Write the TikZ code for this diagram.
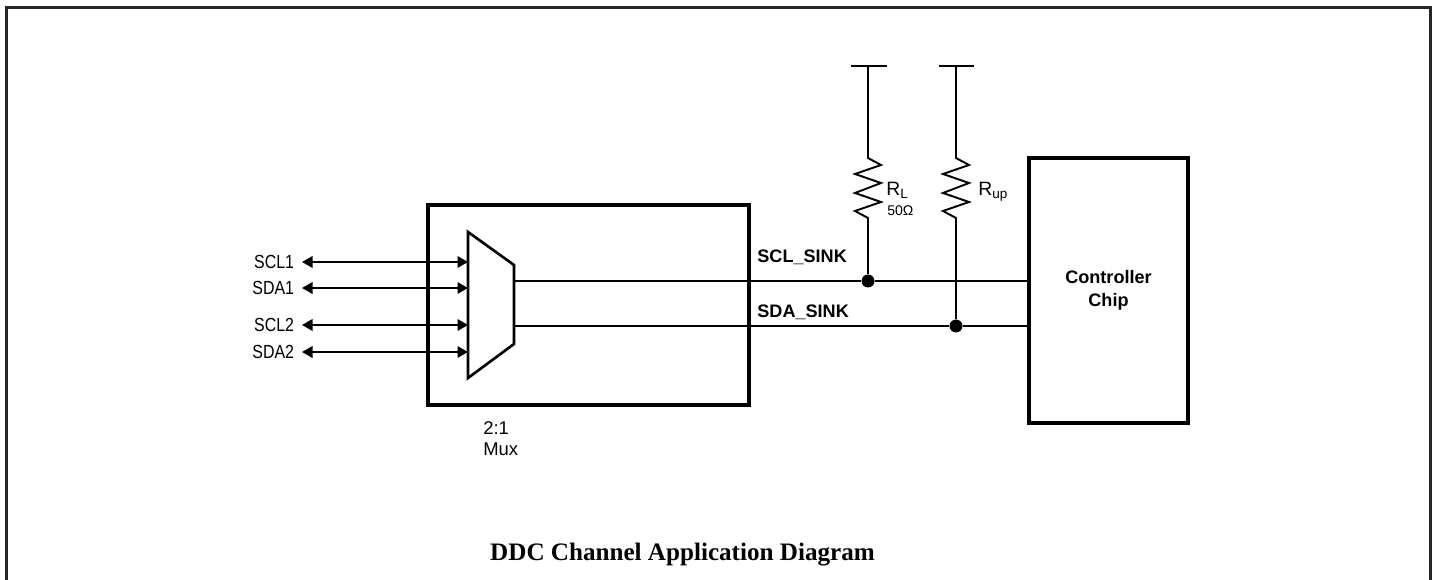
\documentclass[tikz,border=0pt]{standalone}
\usepackage{fontspec}
\setmainfont{Liberation Serif}
\setsansfont{Liberation Sans}
\newfontfamily\narrowsf[FakeStretch=0.84]{Liberation Sans}
\usetikzlibrary{arrows.meta,positioning}

\tikzset{
  wire/.style={line width=0.85pt},
  leg/.style={line width=1.1pt},
  box/.style={draw, line width=2.8pt, inner sep=0pt},
  sig/.style={font=\narrowsf\fontsize{10.8}{12}\selectfont, inner sep=0pt, outer xsep=0.16cm, anchor=east},
  net/.style={font=\sffamily\bfseries\fontsize{10.3}{12}\selectfont, inner sep=0pt, anchor=base west},
  lbl/.style={font=\sffamily\fontsize{11}{12}\selectfont, inner sep=0pt, anchor=base west},
  dot/.style={circle, fill, inner sep=0pt, minimum size=0.26cm},
  bidir/.style={leg, {Triangle[length=0.21cm,width=0.23cm]}-{Triangle[length=0.21cm,width=0.23cm]}},
}

\begin{document}
\begin{tikzpicture}[x=0.02cm,y=-0.02cm]
  \useasboundingbox (0,0) rectangle (1432,580);
  \draw[line width=1.7pt, black!85] (6.3,580) -- (6.3,7.3) -- (1430.5,7.3) -- (1430.5,580);

  \node[box, minimum width=6.42cm, minimum height=4cm] (mux) at (588.5,305) {};
  \node[box, minimum width=3.18cm, minimum height=5.3cm, align=center,
        font=\sffamily\bfseries\fontsize{10.3}{13}\selectfont] (CC) at (1108.5,290.5) {Controller\\Chip};

  \coordinate (mtl) at (468,232);
  \coordinate (mtr) at (514,265);
  \coordinate (mbr) at (514,344);
  \coordinate (mbl) at (468,378);
  \draw[line width=1.5pt, line join=miter] (mtl) -- (mtr) -- (mbr) -- (mbl) -- cycle;

  \coordinate (in1) at (468,262);
  \coordinate (in2) at (468,288);
  \coordinate (in3) at (468,325);
  \coordinate (in4) at (468,352);
  \node[sig] (SCL1) at (302,262) {SCL1};
  \node[sig] (SDA1) at (302,288) {SDA1};
  \node[sig] (SCL2) at (302,325) {SCL2};
  \node[sig] (SDA2) at (302,352) {SDA2};
  \draw[bidir] (SCL1) -- (in1);
  \draw[bidir] (SDA1) -- (in2);
  \draw[bidir] (SCL2) -- (in3);
  \draw[bidir] (SDA2) -- (in4);

  \node[lbl, align=left, anchor=north west, font=\sffamily\fontsize{10.5}{12.2}\selectfont] (mtxt) at (483,421) {2:1\\Mux};

  \coordinate (o1) at (514,281);
  \coordinate (o2) at (514,326);
  \node[dot] (j1) at (868,281) {};
  \node[dot] (j2) at (956,326) {};
  \draw[wire] (o1) -- (j1) -- (CC.west |- j1);
  \draw[wire] (o2) -- (j2) -- (CC.west |- j2);
  \node[net] (sclk) at (757,263) {SCL\_SINK};
  \node[net] (sdak) at (757,318) {SDA\_SINK};

  \coordinate (vL) at (868,66);
  \coordinate (vU) at (956,66);
  \draw[leg] (851,66) -- (887,66);
  \draw[leg] (939,66) -- (974,66);
  \draw[leg, line join=miter] (vL) -- ++(0,92) -- ++(13,7) -- ++(-26,9) -- ++(26,9) -- ++(-26,10)
    -- ++(26,9) -- ++(-26,9) -- ++(13,7) -- (j1);
  \draw[leg, line join=miter] (vU) -- ++(0,92) -- ++(13,7) -- ++(-26,9) -- ++(26,9) -- ++(-26,10)
    -- ++(26,9) -- ++(-26,9) -- ++(13,7) -- (j2);
  \node[lbl] (RL) at (886,196) {R\textsubscript{L}};
  \node[lbl, font=\sffamily\fontsize{8}{9}\selectfont] (RLv) at (887,216) {50Ω};
  \node[lbl] (Rup) at (978,196) {R\textsubscript{up}};

  \node[font=\bfseries\fontsize{14.3}{17}\selectfont, anchor=base, inner sep=0pt] (title) at (682.5,560) {DDC Channel Application Diagram};
\end{tikzpicture}
\end{document}
